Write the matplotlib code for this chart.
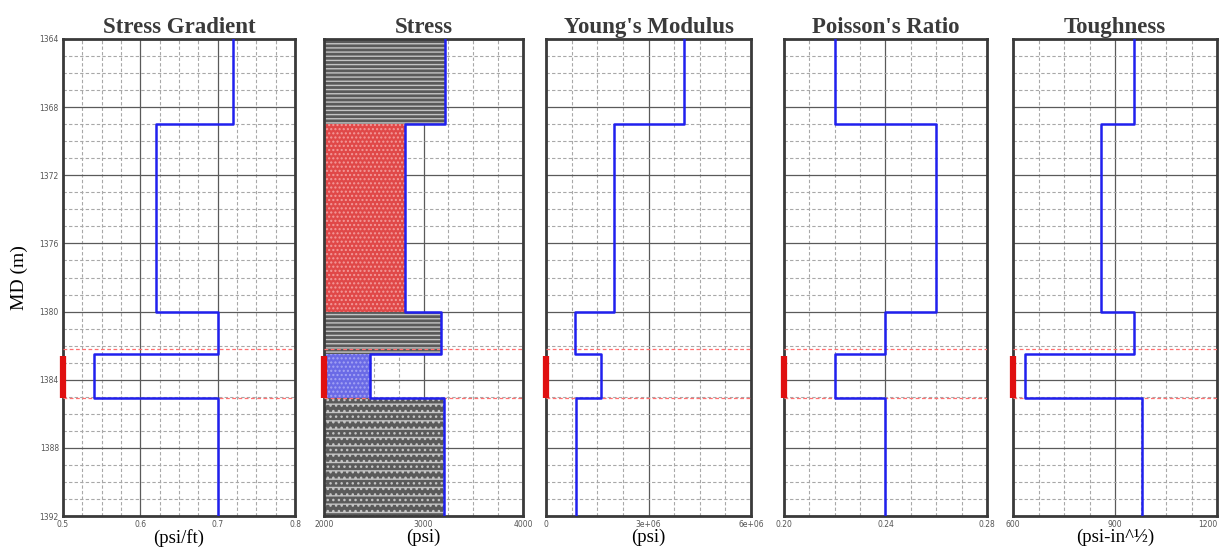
import numpy as np
import matplotlib
matplotlib.use('Agg')
import matplotlib.pyplot as plt
from matplotlib.ticker import MultipleLocator, FixedLocator

plt.rcParams['hatch.linewidth'] = 1.0

# layer tops / bottoms (m MD)
tops = [1364, 1369, 1380, 1382.5, 1385.1]
bots = [1369, 1380, 1382.5, 1385.1, 1392]

stress_grad = [0.72, 0.62, 0.70, 0.54, 0.70]
stress = [3220, 2810, 3180, 2460, 3205]
youngs = [4.05e6, 2.0e6, 0.85e6, 1.6e6, 0.88e6]
poisson = [0.22, 0.26, 0.24, 0.22, 0.24]
toughness = [955, 860, 955, 635, 980]

perf_lines = [1382.2, 1385.1]
perf_bar = [1382.6, 1385.1]

titles = ['Stress Gradient', 'Stress', "Young's Modulus", "Poisson's Ratio", 'Toughness']
xlabels = ['(psi/ft)', '(psi)', '(psi)', '', '(psi-in^½)']
xlims = [(0.5, 0.8), (2000, 4000), (0, 6e6), (0.20, 0.28), (600, 1200)]
xticks = [[0.5, 0.6, 0.7, 0.8], [2000, 3000, 4000], [0, 3e6, 6e6],
          [0.20, 0.24, 0.28], [600, 900, 1200]]
xticklabels = [['0.5', '0.6', '0.7', '0.8'], ['2000', '3000', '4000'],
               ['0', '3e+06', '6e+06'], ['0.20', '0.24', '0.28'],
               ['600', '900', '1200']]
xminor = [0.025, 250, 0.75e6, 0.01, 75]

# stress fill styles per layer
fill_face = ['#5a5a5a', '#e04848', '#5a5a5a', '#6a6ae6', '#5a5a5a']
fill_hatch = ['----', '....', '----', '....', '--...']
fill_edge = ['#c4c4c4', '#f39a9a', '#c4c4c4', '#a4a4f4', '#c4c4c4']

W, H = 1220, 554
boxes = [(63, 295), (324, 523), (546, 751), (784, 987), (1013, 1217)]
top_px, bot_px = 39, 516

fig = plt.figure(figsize=(W / 100, H / 100), dpi=100)
series = [stress_grad, stress, youngs, poisson, toughness]

for i, (x0, x1) in enumerate(boxes):
    ax = fig.add_axes([x0 / W, (H - bot_px) / H, (x1 - x0) / W, (bot_px - top_px) / H])
    ax.set_xlim(*xlims[i])
    ax.set_ylim(1392, 1364)

    ax.xaxis.set_major_locator(FixedLocator(xticks[i]))
    ax.xaxis.set_minor_locator(MultipleLocator(xminor[i]))
    ax.yaxis.set_major_locator(MultipleLocator(4))
    ax.yaxis.set_minor_locator(MultipleLocator(1))
    ax.grid(which='major', color='#5a5a5a', lw=0.9, ls='-')
    ax.grid(which='minor', color='#a8a8a8', lw=0.8, ls=(0, (3, 2)))
    ax.set_axisbelow(True)

    ax.set_xticklabels(xticklabels[i])
    ax.tick_params(which='both', length=0, labelsize=5.5, labelcolor='#555555', pad=3)
    if i == 4:
        ax.get_xticklabels()[-1].set_horizontalalignment('right')
    if i == 0:
        yt = [1364, 1368, 1372, 1376, 1380, 1384, 1388, 1392]
        ax.set_yticks(yt)
        ax.set_yticklabels([str(v) for v in yt])
        ax.set_ylabel('MD (m)', family='Liberation Serif', fontsize=14, labelpad=8)
    else:
        ax.set_yticklabels([])

    for s in ax.spines.values():
        s.set_linewidth(2)
        s.set_color('#3a3a3a')

    vals = series[i]
    if i == 1:
        for t, b, v, fc, h, ec in zip(tops, bots, vals, fill_face, fill_hatch, fill_edge):
            ax.fill_betweenx([t, b], xlims[1][0], v, facecolor=fc, hatch=h,
                             edgecolor=ec, lw=0, zorder=2)

    ys = np.ravel(list(zip(tops, bots)))
    xs = np.repeat(vals, 2)
    ax.plot(xs, ys, color='#2020ee', lw=1.8, zorder=4)

    for d in perf_lines:
        ax.axhline(d, color='#ff7070', lw=0.9, ls=(0, (3, 2)), zorder=3)
    ax.plot([xlims[i][0]] * 2, perf_bar, color='#e01010', lw=4.5,
            solid_capstyle='butt', zorder=5, clip_on=False)

    ax.set_title(titles[i], family='Liberation Serif', fontsize=16.5,
                 fontweight='bold', color='#3a3a3a', pad=4)
    if xlabels[i]:
        ax.set_xlabel(xlabels[i], family=['Liberation Serif', 'DejaVu Serif'],
                      fontsize=13.5, labelpad=0)

fig.savefig('out.png', dpi=100)
